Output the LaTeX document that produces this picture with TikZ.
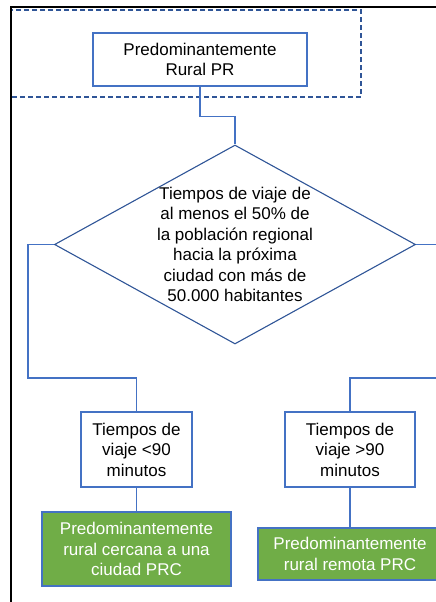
\documentclass[tikz,border=0pt]{standalone}
\usepackage{fontspec}
\setmainfont{Liberation Sans}
\usetikzlibrary{%
	shapes.geometric,
	calc
}
\definecolor{boxblue}{HTML}{4472C4}
\definecolor{darkblue}{HTML}{2F5597}
\definecolor{resgreen}{HTML}{70AD47}

\begin{document}
\begin{tikzpicture}[x=1pt,y=-1pt,
		PBox/.style={draw=boxblue,line width=1.1pt,shape=rectangle,fill=white,font=\fontsize{17}{20.5}\selectfont,align=center,inner sep=0pt},
		PDecision/.style={draw=darkblue,line width=1.1pt,shape=diamond,inner sep=0pt,minimum width=361pt,minimum height=199pt},
		PText/.style={font=\fontsize{17}{20.5}\selectfont,align=center,inner sep=0pt},
		PResult/.style={PBox,fill=resgreen,text=white},
		conn/.style={draw=boxblue,line width=1.2pt},
		outside/.style={draw=darkblue,line width=1.2pt,dash pattern=on 5pt off 3pt}
	]
	
		\useasboundingbox (0,0) rectangle (436,602);
		\clip (0,0) rectangle (436,602);
	
		%frame
		\draw [outside] (11,10) rectangle (361,97);
		\draw [line width=2pt] (11,610) -- (11,7) -- (440,7);
		
		%top box
		\node(top) [PBox, minimum width=214pt, minimum height=53pt] at (200,59.5) {Predominantemente\\Rural PR};
		
		%decision
		\node(q) [PDecision, label={[PText]center:{Tiempos de viaje de\\al menos el 50\% de\\la población regional\\hacia la próxima\\ciudad con más de\\50.000 habitantes}}] at (235,244.5) {};
		\coordinate (q-out) at (445,244.5);
		
		%travel times
		\node(tl) [PBox, minimum width=111pt, minimum height=75pt] at (136.5,449.5) {Tiempos de\\viaje <90\\minutos};
		\node(tr) [PBox, minimum width=130pt, minimum height=75pt] at (350,449.5) {Tiempos de\\viaje >90\\minutos};
		\coordinate (tr-in) at (445,378);
		
		%results
		\node(gl) [PResult, minimum width=189pt, minimum height=74pt] at (136.5,549) {Predominantemente\\rural cercana a una\\ciudad PRC};
		\node(gr) [PResult, minimum width=184pt, minimum height=52pt] at (350,554) {Predominantemente\\rural remota PRC};
		
		%connectors
		\draw [conn] (top.south) -- ++(0,30) -| (q.north);
		\draw [conn] (q.west) -- ++(-26,0) -- ++(0,133.5) -| (tl.north);
		\draw [conn] (q.east) -- (q-out);
		\draw [conn] (tr.north) |- (tr-in);
		\draw [conn] (tl.south) -- (gl.north);
		\draw [conn] (tr.south) -- (gr.north);
		
	\end{tikzpicture}
\end{document}
